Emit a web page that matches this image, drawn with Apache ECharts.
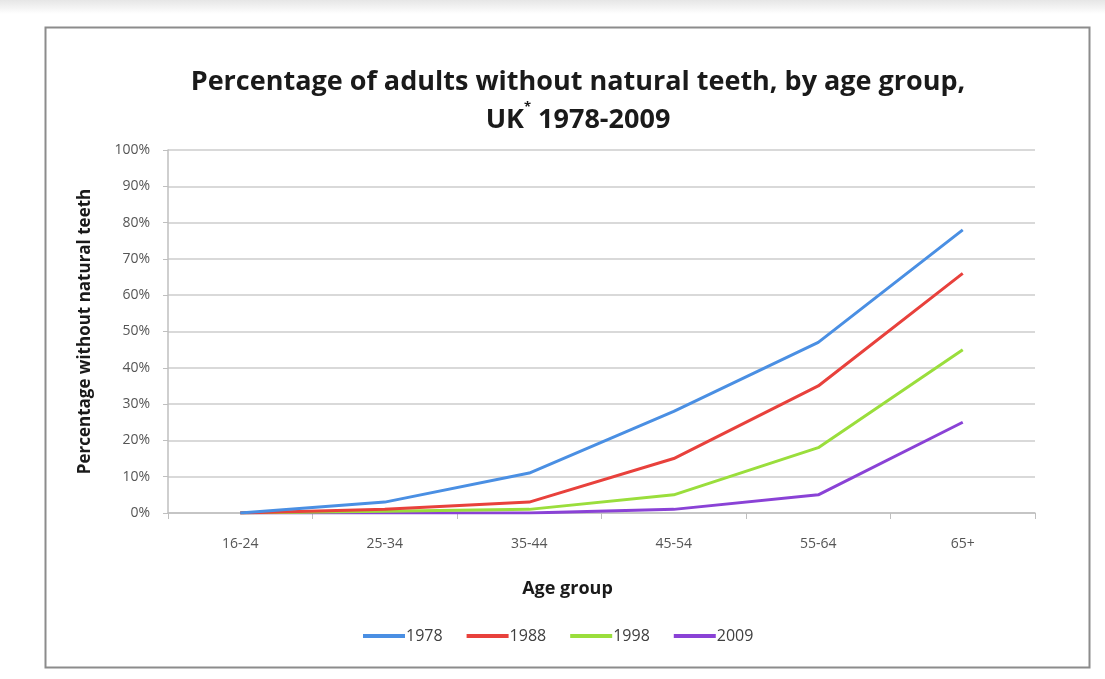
<!DOCTYPE html>
<html>
<head>
<meta charset="utf-8">
<script src="https://cdn.jsdelivr.net/npm/echarts@6/dist/echarts.min.js"></script>
<style>
html,body{margin:0;padding:0;width:1105px;height:679px;overflow:hidden;background:#fff;}
#shade{position:absolute;left:0;top:0;width:1105px;height:679px;background:linear-gradient(#e6e6e6,#f4f4f4 8px,#ffffff 14px);}
#chart{position:absolute;left:0;top:0;width:1105px;height:679px;}
</style>
</head>
<body>
<div id="shade"></div>
<div id="chart"></div>
<script>
var categories = ['16-24', '25-34', '35-44', '45-54', '55-64', '65+'];
var seriesNames = ['1978', '1988', '1998', '2009'];
var v1978 = [0, 3, 11, 28, 47, 78];
var v1988 = [0, 1, 3, 15, 35, 66];
var v1998 = [0, 0.5, 1, 5, 18, 45];
var v2009 = [0, 0, 0, 1, 5, 25];
var yTicks = [0, 10, 20, 30, 40, 50, 60, 70, 80, 90, 100];
var colors = ['#4a8fe3', '#e8413c', '#9ade3c', '#8a42d6'];
var values = [v1978, v1988, v1998, v2009];

var font = '"Open Sans", "Liberation Sans", sans-serif';
var chart = echarts.init(document.getElementById('chart'), null, {renderer: 'canvas'});
chart.setOption({
  animation: false,
  color: colors,
  graphic: [{
    type: 'rect', left: 43, top: 25,
    shape: {width: 1044, height: 640},
    style: {fill: 'none', stroke: '#8c8c8c', lineWidth: 2},
    z: -1
  }],
  title: {
    text: 'Percentage of adults without natural teeth, by age group,\nUK{sup|*} 1978-2009',
    left: 573, top: 58, textAlign: 'center',
    textStyle: {
      fontFamily: font, fontSize: 27, fontWeight: 'bold', color: '#1a1a1a', lineHeight: 38,
      rich: {sup: {fontSize: 13, fontWeight: 'bold', verticalAlign: 'top', padding: [0,0,4,0], fontFamily: font, color:'#1a1a1a'}}
    }
  },
  legend: {
    top: 623, left: 358,
    itemWidth: 42, itemHeight: 4, itemGap: 24,
    icon: 'rect',
    textStyle: {fontFamily: font, fontSize: 16, color: '#404040', padding: [0,0,0,-4]},
    data: seriesNames
  },
  grid: {left: 168, right: 70, top: 150, bottom: 166, containLabel: false},
  xAxis: {
    type: 'category', data: categories, boundaryGap: true,
    name: 'Age group', nameLocation: 'middle', nameGap: 67,
    nameTextStyle: {fontFamily: font, fontSize: 18, fontWeight: 'bold', color: '#1a1a1a', padding: [0, 68, 0, 0]},
    axisLine: {lineStyle: {color: '#bfbfbf', width: 1.5}},
    axisTick: {show: true, alignWithLabel: false, length: 6, lineStyle: {color: '#bfbfbf'}},
    axisLabel: {fontFamily: font, fontSize: 14, color: '#555', margin: 24}
  },
  yAxis: {
    type: 'value', min: 0, max: 100, interval: 10,
    name: 'Percentage without natural teeth', nameLocation: 'middle', nameGap: 74,
    nameTextStyle: {fontFamily: font, fontSize: 17, fontWeight: 'bold', color: '#1a1a1a'},
    axisLine: {show: true, lineStyle: {color: '#bfbfbf', width: 1.5}},
    axisTick: {show: true, length: 5, lineStyle: {color: '#bfbfbf'}},
    splitLine: {lineStyle: {color: '#d9d9d9', width: 2}},
    axisLabel: {fontFamily: font, fontSize: 14, color: '#555', margin: 18,
      formatter: function (v) { return yTicks.indexOf(v) >= 0 ? v + '%' : ''; }}
  },
  series: seriesNames.map(function (n, i) {
    return {
      name: n, type: 'line', data: values[i], symbol: 'none',
      lineStyle: {width: 3, color: colors[i]}, itemStyle: {color: colors[i]}, z: 10 - i
    };
  })
});
</script>
</body>
</html>
